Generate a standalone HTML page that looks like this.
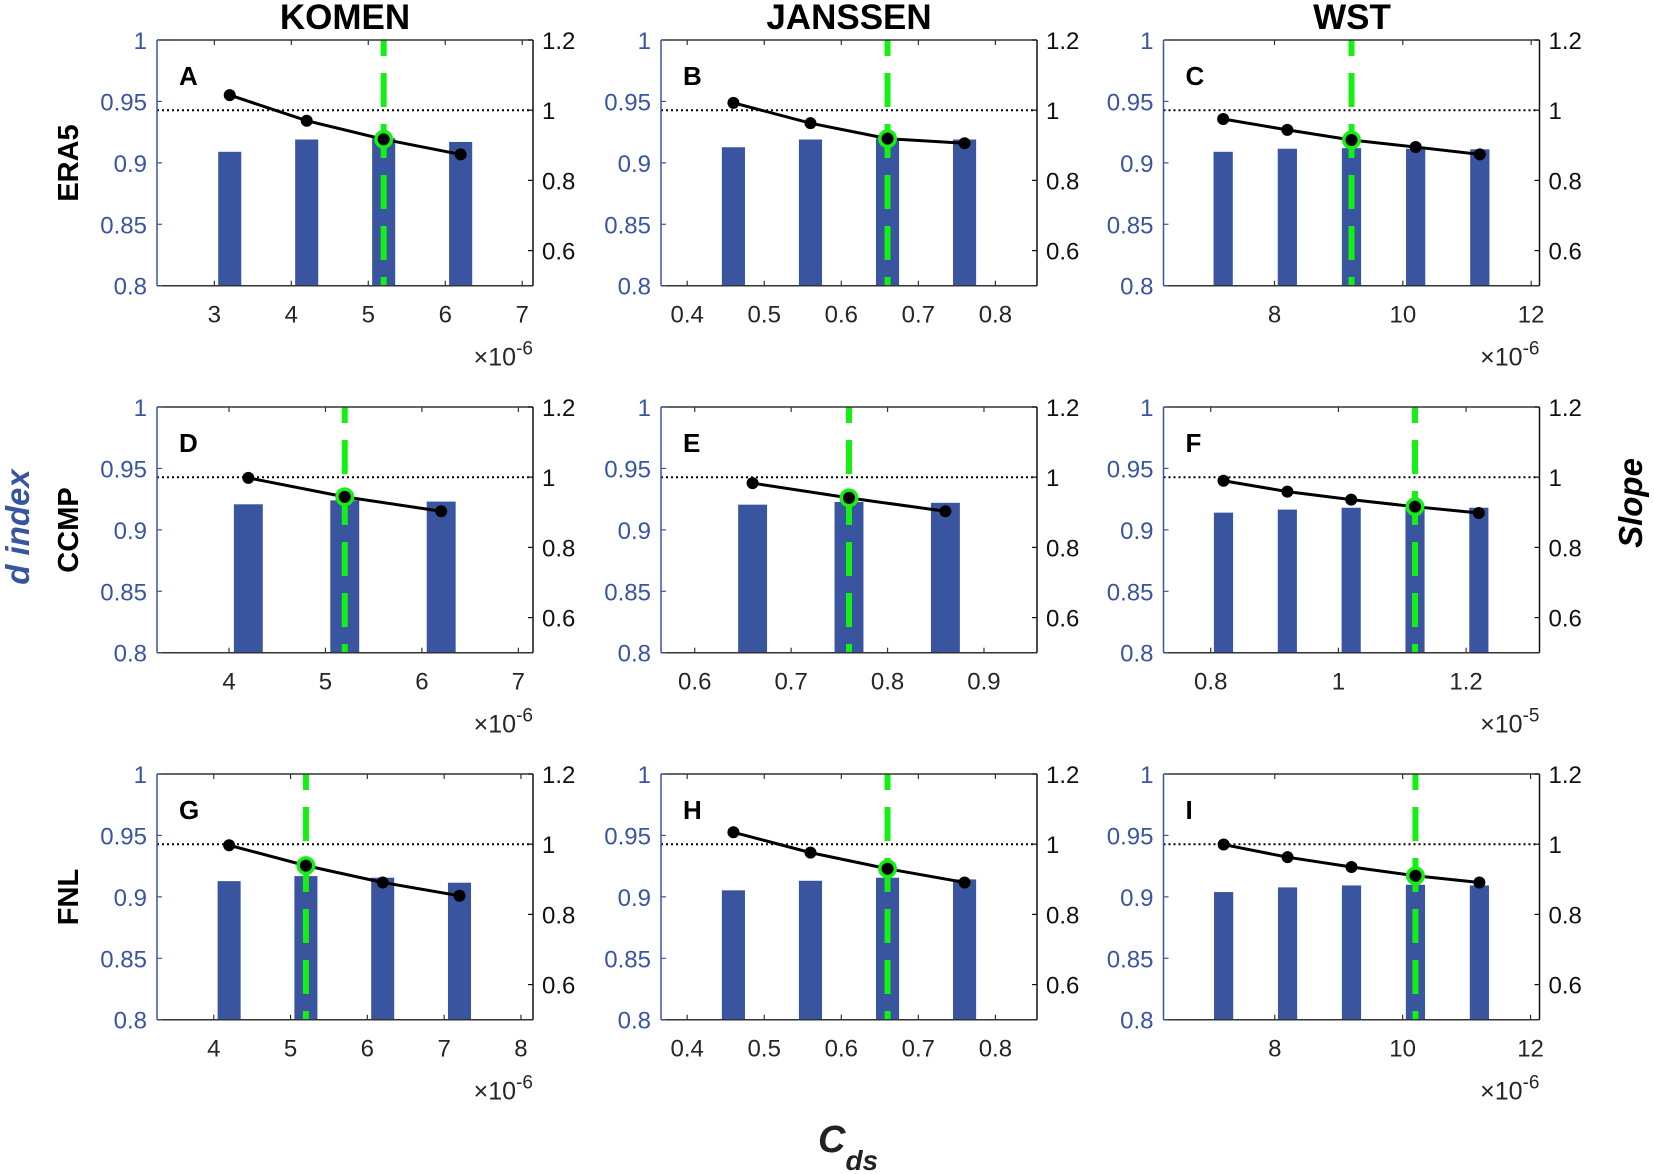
<!DOCTYPE html>
<html><head><meta charset="utf-8">
<style>
html,body{margin:0;padding:0;background:#fff;}
svg{display:block;font-family:"Liberation Sans",Arial,sans-serif;}
</style></head>
<body>
<svg id="chart" width="1654" height="1174" viewBox="0 0 1654 1174" xmlns="http://www.w3.org/2000/svg">
  <g id="titles">
    <text x="345" y="29" text-anchor="middle" font-size="35" font-weight="bold">KOMEN</text>
    <text x="849" y="29" text-anchor="middle" font-size="35" font-weight="bold">JANSSEN</text>
    <text x="1352" y="29" text-anchor="middle" font-size="35" font-weight="bold">WST</text>
    <text transform="translate(78,163) rotate(-90)" text-anchor="middle" font-size="29" font-weight="bold">ERA5</text>
    <text transform="translate(78,530) rotate(-90)" text-anchor="middle" font-size="29" font-weight="bold">CCMP</text>
    <text transform="translate(78,897) rotate(-90)" text-anchor="middle" font-size="29" font-weight="bold">FNL</text>
    <text transform="translate(29,527) rotate(-90)" text-anchor="middle" font-size="33" font-weight="bold" font-style="italic" fill="#3a55a0">d index</text>
    <text transform="translate(1642,503) rotate(-90)" text-anchor="middle" font-size="33" font-weight="bold" font-style="italic">Slope</text>
    <text x="818" y="1152" font-size="38" font-weight="bold" font-style="italic" fill="#222">C<tspan font-size="28" dy="18">ds</tspan></text>
  </g>
  <g id="panels"></g>
</svg>
<script>
// ---- data ----
const xA = [3.2, 4.2, 5.2, 6.2];
const dA = [0.909, 0.919, 0.920, 0.917];
const sA = [1.043, 0.970, 0.917, 0.874];
const optA = 5.2;
const ticksA = [3, 4, 5, 6, 7];

const xB = [0.46, 0.56, 0.66, 0.76];
const dB = [0.9127, 0.919, 0.920, 0.919];
const sB = [1.021, 0.963, 0.919, 0.906];
const optB = 0.66;
const ticksB = [0.4, 0.5, 0.6, 0.7, 0.8];

const xC = [7.2, 8.2, 9.2, 10.2, 11.2];
const dC = [0.909, 0.9115, 0.912, 0.9115, 0.911];
const sC = [0.975, 0.944, 0.915, 0.895, 0.874];
const optC = 9.2;
const ticksC = [8, 10, 12];

const xD = [4.2, 5.2, 6.2];
const dD = [0.9208, 0.924, 0.923];
const sD = [0.998, 0.944, 0.903];
const optD = 5.2;
const ticksD = [4, 5, 6, 7];

const xE = [0.66, 0.76, 0.86];
const dE = [0.9205, 0.9227, 0.922];
const sE = [0.983, 0.941, 0.903];
const optE = 0.76;
const ticksE = [0.6, 0.7, 0.8, 0.9];

const xF = [0.82, 0.92, 1.02, 1.12, 1.22];
const dF = [0.914, 0.9165, 0.918, 0.918, 0.918];
const sF = [0.990, 0.959, 0.936, 0.916, 0.898];
const optF = 1.12;
const ticksF = [0.8, 1, 1.2];

const xG = [4.2, 5.2, 6.2, 7.2];
const dG = [0.9128, 0.9169, 0.9156, 0.9115];
const sG = [0.997, 0.939, 0.891, 0.853];
const optG = 5.2;
const ticksG = [4, 5, 6, 7, 8];

const xH = [0.46, 0.56, 0.66, 0.76];
const dH = [0.9053, 0.9131, 0.9156, 0.9142];
const sH = [1.034, 0.976, 0.930, 0.891];
const optH = 0.66;
const ticksH = [0.4, 0.5, 0.6, 0.7, 0.8];

const xI = [7.2, 8.2, 9.2, 10.2, 11.2];
const dI = [0.9039, 0.9077, 0.9093, 0.9099, 0.9093];
const sI = [0.999, 0.963, 0.935, 0.910, 0.891];
const optI = 10.2;
const ticksI = [8, 10, 12];

const leftTicks = [0.8, 0.85, 0.9, 0.95, 1];
const leftTickLabels = ["0.8", "0.85", "0.9", "0.95", "1"];
const rightTicks = [0.6, 0.8, 1, 1.2];
const rightTickLabels = ["0.6", "0.8", "1", "1.2"];

// ---- layout ----
const NS = "http://www.w3.org/2000/svg";
const colLeft = [157, 661, 1163.5];
const rowTop = [40, 407, 774];
const PW = 376, PH = 245.7;
const BLUE = "#3a55a0", GREEN = "#14f014";

const panels = [
  {L:"A", c:0, r:0, x:xA, d:dA, s:sA, opt:optA, ticks:ticksA, xlim:[2.255, 7.14], exp:"-6", step:1},
  {L:"B", c:1, r:0, x:xB, d:dB, s:sB, opt:optB, ticks:ticksB, xlim:[0.366, 0.854], exp:null, step:0.1},
  {L:"C", c:2, r:0, x:xC, d:dC, s:sC, opt:optC, ticks:ticksC, xlim:[6.27, 12.13], exp:"-6", step:1},
  {L:"D", c:0, r:1, x:xD, d:dD, s:sD, opt:optD, ticks:ticksD, xlim:[3.253, 7.152], exp:"-6", step:1},
  {L:"E", c:1, r:1, x:xE, d:dE, s:sE, opt:optE, ticks:ticksE, xlim:[0.565, 0.955], exp:null, step:0.1},
  {L:"F", c:2, r:1, x:xF, d:dF, s:sF, opt:optF, ticks:ticksF, xlim:[0.726, 1.315], exp:"-5", step:0.1},
  {L:"G", c:0, r:2, x:xG, d:dG, s:sG, opt:optG, ticks:ticksG, xlim:[3.261, 8.157], exp:"-6", step:1},
  {L:"H", c:1, r:2, x:xH, d:dH, s:sH, opt:optH, ticks:ticksH, xlim:[0.366, 0.854], exp:null, step:0.1},
  {L:"I", c:2, r:2, x:xI, d:dI, s:sI, opt:optI, ticks:ticksI, xlim:[6.26, 12.14], exp:"-6", step:1}
];

function mk(tag, attrs, parent) {
  const el = document.createElementNS(NS, tag);
  for (const k in attrs) el.setAttribute(k, attrs[k]);
  parent.appendChild(el);
  return el;
}

const root = document.getElementById("panels");
panels.forEach(p => {
  const x0 = colLeft[p.c], y0 = rowTop[p.r], x1 = x0 + PW, y1 = y0 + PH;
  const g = mk("g", {}, root);
  
  
  const X = v => x0 + (v - p.xlim[0]) / (p.xlim[1] - p.xlim[0]) * PW;
  const YL = v => y1 - (v - 0.8) / 0.2 * PH;
  const YR = v => y1 - (v - 0.5) / 0.7 * PH;
  const bw = 0.3 * p.step * PW / (p.xlim[1] - p.xlim[0]);

  p.x.forEach((xv, i) => {
    const b = mk("rect", {x: X(xv) - bw/2, y: YL(p.d[i]), width: bw, height: y1 - YL(p.d[i]), fill: BLUE}, g);
    
    
  });

  const dl = mk("line", {x1: x0, x2: x1, y1: YR(1), y2: YR(1), stroke: "#000", "stroke-width": 2, "stroke-dasharray": "2 3"}, g);
  
  

  const gl = mk("line", {x1: X(p.opt), x2: X(p.opt), y1: y0, y2: y1, stroke: GREEN, "stroke-width": 6, "stroke-dasharray": "34 17", "stroke-dashoffset": "18"}, g);
  
  

  const pts = p.x.map((xv, i) => X(xv) + "," + YR(p.s[i])).join(" ");
  const pl = mk("polyline", {points: pts, fill: "none", stroke: "#000", "stroke-width": 3}, g);
  
  
  p.x.forEach((xv, i) => {
    if (Math.abs(xv - p.opt) < 1e-9) {
      const ring = mk("circle", {cx: X(xv), cy: YR(p.s[i]), r: 9.5, fill: GREEN}, g);
      
      
    }
    const c = mk("circle", {cx: X(xv), cy: YR(p.s[i]), r: 6, fill: "#000"}, g);
    
    
  });

  const top = mk("line", {x1: x0, x2: x1, y1: y0, y2: y0, stroke: "#333", "stroke-width": 1.5}, g);
  
  
  const bot = mk("line", {x1: x0, x2: x1, y1: y1, y2: y1, stroke: "#333", "stroke-width": 1.5}, g);
  
  
  const la = mk("line", {x1: x0, x2: x0, y1: y0, y2: y1, stroke: BLUE, "stroke-width": 1.5}, g);
  
  
  const ra = mk("line", {x1: x1, x2: x1, y1: y0, y2: y1, stroke: "#111", "stroke-width": 1.5}, g);
  
  

  p.ticks.forEach(t => {
    const xt = X(t);
    mk("line", {x1: xt, x2: xt, y1: y1, y2: y1 - 5, stroke: "#333", "stroke-width": 1.2}, g);
    mk("line", {x1: xt, x2: xt, y1: y0, y2: y0 + 5, stroke: "#333", "stroke-width": 1.2}, g);
    const tl = mk("text", {x: xt, y: y1 + 37, "text-anchor": "middle", "font-size": 24, fill: "#262626"}, g);
    tl.textContent = String(t);
    
    
  });
  leftTicks.forEach((t, i) => {
    const yt = YL(t);
    mk("line", {x1: x0, x2: x0 + 5, y1: yt, y2: yt, stroke: BLUE, "stroke-width": 1.2}, g);
    const tl = mk("text", {x: x0 - 10, y: yt + 9, "text-anchor": "end", "font-size": 24, fill: BLUE}, g);
    tl.textContent = leftTickLabels[i];
    
    
  });
  rightTicks.forEach((t, i) => {
    const yt = YR(t);
    mk("line", {x1: x1, x2: x1 - 5, y1: yt, y2: yt, stroke: "#111", "stroke-width": 1.2}, g);
    const tl = mk("text", {x: x1 + 9, y: yt + 9, "text-anchor": "start", "font-size": 24, fill: "#111"}, g);
    tl.textContent = rightTickLabels[i];
    
    
  });
  if (p.exp) {
    const ex = mk("text", {x: x1, y: y1 + 80, "text-anchor": "end", "font-size": 25, fill: "#262626"}, g);
    ex.innerHTML = '×10<tspan font-size="19" dy="-11">' + p.exp + '</tspan>';
    
    
  }
  const lt = mk("text", {x: x0 + 22, y: y0 + 45, "font-size": 26, "font-weight": "bold"}, g);
  lt.textContent = p.L;
  
  
});
</script>
</body></html>
